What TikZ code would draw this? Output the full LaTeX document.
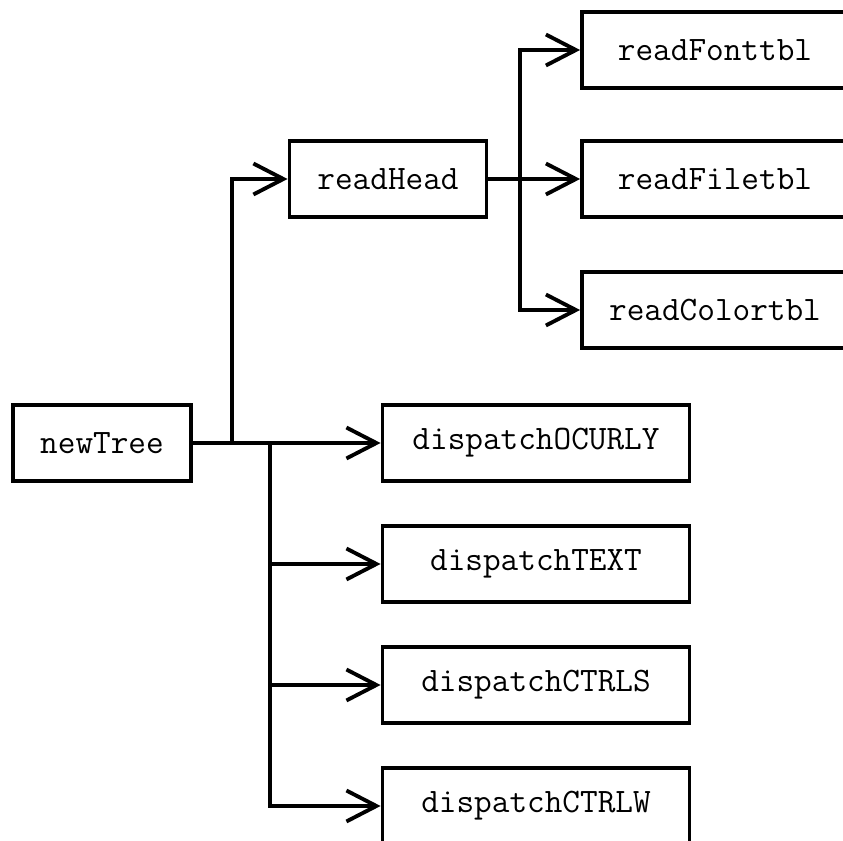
\documentclass[tikz,border=0pt]{standalone}
\usepackage{fontspec}
\usepackage{tikz}
\usetikzlibrary{arrows.meta,calc,positioning}

\tikzset{
  fn/.style={draw,line width=2.2pt,inner sep=0pt,minimum height=1.52cm,
    font=\ttfamily\fontsize{19.5}{22}\selectfont},
  call/.style={line width=2.2pt,-{Straight Barb[length=0.6cm,width=0.62cm]}}
}

\begin{document}
\begin{tikzpicture}[x=0.02cm,y=-0.02cm]
\useasboundingbox (0,0) rectangle (843,841);
\clip (0,0) rectangle (843,841);
% call tree, one column per level
\node[fn,minimum width=3.56cm] (newTree) at (102,443) {newTree};
\node[fn,minimum width=3.94cm] (readHead) at (388,179) {readHead};
\node[fn,minimum width=5.32cm] (fonttbl) at (715,50) {readFonttbl};
\node[fn,minimum width=5.32cm] (filetbl) at (715,179) {readFiletbl};
\node[fn,minimum width=5.32cm] (colortbl) at (715,310) {readColortbl};
\node[fn,minimum width=6.14cm] (ocurly) at (536,443) {dispatchOCURLY};
\node[fn,minimum width=6.14cm] (text) at (536,564) {dispatchTEXT};
\node[fn,minimum width=6.14cm] (ctrls) at (536,685) {dispatchCTRLS};
\node[fn,minimum width=6.14cm] (ctrlw) at (536,806) {dispatchCTRLW};
\coordinate (headFork) at (232,443);
\coordinate (dispFork) at (270,443);
\coordinate (tblFork) at (520,179);
% branches
\draw[call] (newTree.east) -- (headFork) |- (readHead.west);
\foreach \n in {ocurly,text,ctrls,ctrlw}
  \draw[call] (newTree.east) -- (dispFork) |- (\n.west);
\foreach \n in {fonttbl,filetbl,colortbl}
  \draw[call] (readHead.east) -- (tblFork) |- (\n.west);
\end{tikzpicture}
\end{document}
